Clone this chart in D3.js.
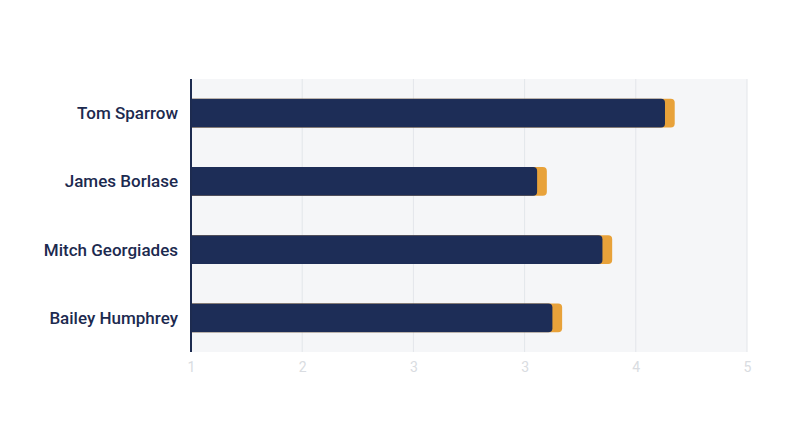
<!DOCTYPE html>
<html>
<head>
    <script src="https://d3js.org/d3.v7.min.js"></script>
    <style>
        body { margin: 0; background: #fff; }
        .label { font-family: Roboto, sans-serif; font-size: 17px; font-weight: 500; fill: #1c2a4f; }
        .x-axis text { font-family: Roboto, sans-serif; font-size: 14px; fill: #d9dce1; }
        .x-axis path, .x-axis line { display: none; }
        .grid line { stroke: #e3e6ea; stroke-width: 1; }
    </style>
</head>
<body>
<div id="chart"></div>
<script>
    // data
    const players = ["Tom Sparrow", "James Borlase", "Mitch Georgiades", "Bailey Humphrey"];
    const mainValues = [4.41, 3.49, 3.96, 3.60];   // navy
    const totalValues = [4.48, 3.56, 4.03, 3.67];  // orange, shows behind navy
    const xTicks = [1, 1.8, 2.6, 3.4, 4.2, 5];

    const width = 800, height = 447;
    const margin = { top: 79, right: 53, bottom: 95, left: 191 };
    const plotW = width - margin.left - margin.right;
    const plotH = height - margin.top - margin.bottom;

    const svg = d3.select("#chart").append("svg")
        .attr("width", width)
        .attr("height", height);

    const g = svg.append("g")
        .attr("transform", `translate(${margin.left},${margin.top})`);

    const x = d3.scaleLinear().domain([1, 5]).range([0, plotW]);
    const y = d3.scaleBand().domain(players).range([0, plotH])
        .paddingInner(0.58).paddingOuter(0.29);

    // plot background
    g.append("rect")
        .attr("width", plotW)
        .attr("height", plotH)
        .attr("fill", "#f5f6f8");

    // vertical grid lines
    g.append("g").attr("class", "grid")
        .selectAll("line")
        .data(xTicks.slice(1))
        .enter().append("line")
        .attr("x1", d => x(d)).attr("x2", d => x(d))
        .attr("y1", 0).attr("y2", plotH);

    // rounded bar: square on the left, radius r on the right
    function barPath(x0, x1, y0, h, r) {
        return `M${x0},${y0}H${x1 - r}Q${x1},${y0} ${x1},${y0 + r}` +
            `V${y0 + h - r}Q${x1},${y0 + h} ${x1 - r},${y0 + h}H${x0}Z`;
    }

    const rows = players.map((p, i) => ({ name: p, main: mainValues[i], total: totalValues[i] }));

    g.selectAll(".bar-total")
        .data(rows)
        .enter().append("path")
        .attr("fill", "#e8a23a")
        .attr("d", d => barPath(x(1), x(d.total), y(d.name), y.bandwidth(), 4));

    g.selectAll(".bar-main")
        .data(rows)
        .enter().append("path")
        .attr("fill", "#1d2d57")
        .attr("d", d => barPath(x(1), x(d.main), y(d.name), y.bandwidth(), 4));

    // left axis line
    g.append("line")
        .attr("x1", 0).attr("x2", 0)
        .attr("y1", 0).attr("y2", plotH)
        .attr("stroke", "#1d2b50")
        .attr("stroke-width", 2);

    // category labels
    g.selectAll(".label")
        .data(players)
        .enter().append("text")
        .attr("class", "label")
        .attr("x", -13)
        .attr("y", d => y(d) + y.bandwidth() / 2)
        .attr("dy", "0.35em")
        .attr("text-anchor", "end")
        .text(d => d);

    // x axis (ticks rounded, as in the original)
    g.append("g")
        .attr("class", "x-axis")
        .attr("transform", `translate(0,${plotH})`)
        .call(d3.axisBottom(x).tickValues(xTicks).tickFormat(d3.format(".0f")).tickSize(0).tickPadding(10));
</script>
</body>
</html>
